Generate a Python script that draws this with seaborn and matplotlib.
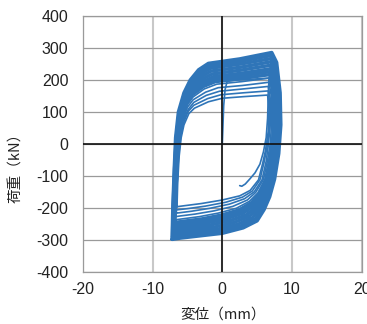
"""
    Load-displacement hysteresis loops (荷重 vs 変位)
"""
import pandas as pd
import seaborn as sns
import matplotlib.pyplot as plt

# loops, innermost first (displacement mm, load kN)
loop1_x = [-6.5, -6.4, -6.2, -5.9, -5.5, -4.8, -4.0, -2.0, 0.0, 3.0, 6.5, 6.7, 6.6, 6.2, 5.8, 5.2, 4.0, 2.5, 0.0, -3.0, -5.5, -6.2]
loop1_y = [-196, -120, -40, 20, 60, 95, 112, 132, 143, 148, 153, 110, 40, -20, -60, -112, -145, -162, -175, -186, -193, -195]
loop2_x = [-6.6, -6.5, -6.3, -6.0, -5.6, -4.9, -4.1, -2.1, -0.2, 3.0, 6.6, 6.8, 6.8, 6.4, 6.0, 5.4, 4.3, 2.9, 0.5, -2.4, -5.0, -6.2]
loop2_y = [-206, -128, -44, 20, 64, 102, 121, 142, 154, 160, 166, 125, 52, -12, -57, -112, -147, -166, -182, -194, -202, -205]
loop3_x = [-6.6, -6.5, -6.3, -6.1, -5.7, -4.9, -4.1, -2.3, -0.4, 2.9, 6.6, 6.9, 6.9, 6.6, 6.3, 5.7, 4.6, 3.2, 1.0, -1.8, -4.4, -6.2]
loop3_y = [-216, -136, -48, 20, 68, 108, 130, 152, 165, 172, 180, 139, 64, -4, -54, -112, -149, -171, -188, -201, -210, -215]
loop4_x = [-6.7, -6.6, -6.4, -6.1, -5.7, -5.0, -4.2, -2.4, -0.6, 2.9, 6.7, 7.0, 7.1, 6.9, 6.5, 5.9, 4.8, 3.6, 1.5, -1.2, -3.9, -6.1]
loop4_y = [-227, -144, -52, 20, 72, 115, 138, 162, 176, 183, 193, 154, 76, 4, -51, -111, -151, -175, -195, -209, -219, -225]
loop5_x = [-6.8, -6.7, -6.5, -6.2, -5.8, -5.1, -4.2, -2.6, -0.8, 2.8, 6.7, 7.1, 7.3, 7.1, 6.7, 6.1, 5.1, 3.9, 2.0, -0.6, -3.3, -6.1]
loop5_y = [-237, -152, -56, 20, 76, 121, 147, 172, 187, 195, 206, 168, 88, 12, -48, -111, -153, -179, -201, -216, -227, -235]
loop6_x = [-6.8, -6.7, -6.5, -6.3, -5.9, -5.1, -4.3, -2.7, -1.0, 2.8, 6.8, 7.2, 7.4, 7.3, 6.9, 6.3, 5.3, 4.2, 2.4, -0.1, -2.9, -6.1]
loop6_y = [-245, -158, -59, 20, 79, 126, 154, 180, 195, 205, 217, 180, 98, 18, -46, -111, -155, -183, -206, -222, -234, -243]
loop7_x = [-6.9, -6.8, -6.6, -6.3, -5.9, -5.2, -4.3, -2.8, -1.1, 2.7, 6.8, 7.3, 7.5, 7.4, 7.1, 6.5, 5.5, 4.4, 2.8, 0.3, -2.5, -6.1]
loop7_y = [-252, -164, -62, 20, 82, 131, 160, 187, 203, 213, 226, 190, 106, 24, -44, -111, -156, -186, -211, -228, -240, -249]
loop8_x = [-6.9, -6.8, -6.6, -6.4, -6.0, -5.2, -4.4, -2.9, -1.2, 2.7, 6.9, 7.4, 7.7, 7.6, 7.2, 6.6, 5.7, 4.7, 3.1, 0.7, -2.1, -6.1]
loop8_y = [-259, -170, -65, 20, 85, 135, 167, 194, 211, 221, 235, 200, 114, 30, -41, -111, -157, -189, -215, -233, -246, -256]
loop9_x = [-7.0, -6.9, -6.7, -6.5, -6.1, -5.3, -4.4, -3.0, -1.4, 2.7, 6.9, 7.5, 7.8, 7.7, 7.4, 6.8, 6.0, 5.0, 3.5, 1.2, -1.7, -6.1]
loop9_y = [-267, -176, -68, 20, 88, 141, 174, 202, 219, 231, 246, 212, 124, 36, -39, -111, -159, -192, -221, -239, -253, -264]
loop10_x = [-7.0, -6.9, -6.8, -6.5, -6.1, -5.3, -4.5, -3.1, -1.6, 2.6, 7.0, 7.6, 7.9, 7.9, 7.6, 7.0, 6.2, 5.2, 3.9, 1.7, -1.2, -6.0]
loop10_y = [-276, -182, -71, 20, 91, 146, 181, 210, 228, 240, 257, 223, 134, 42, -37, -110, -161, -196, -226, -245, -260, -272]
loop11_x = [-7.1, -7.0, -6.8, -6.6, -6.2, -5.4, -4.5, -3.2, -1.7, 2.6, 7.0, 7.6, 8.1, 8.1, 7.8, 7.2, 6.4, 5.5, 4.3, 2.2, -0.8, -6.0]
loop11_y = [-284, -189, -74, 20, 94, 151, 188, 218, 237, 250, 267, 235, 143, 49, -34, -110, -162, -199, -231, -251, -267, -280]
loop12_x = [-7.15, -7.05, -6.85, -6.6, -6.2, -5.45, -4.6, -3.3, -1.9, 2.5, 7.1, 7.7, 8.2, 8.25, 7.9, 7.3, 6.6, 5.8, 4.7, 2.6, -0.4, -6.0]
loop12_y = [-291, -194, -77, 20, 97, 155, 194, 225, 244, 258, 277, 245, 152, 54, -32, -110, -164, -202, -235, -257, -273, -287]
loop13_x = [-7.2, -7.1, -6.9, -6.7, -6.3, -5.5, -4.6, -3.4, -2.0, 2.5, 7.1, 7.8, 8.3, 8.4, 8.1, 7.5, 6.8, 6.0, 5.0, 3.0, 0.0, -6.0]
loop13_y = [-298, -200, -80, 20, 100, 160, 200, 232, 252, 266, 286, 255, 160, 60, -30, -110, -165, -205, -240, -262, -279, -294]

# first loading and final unloading
first_x = [0.0, 0.1, 0.2, 0.4, 0.7, 2.0, 4.5, 6.7]
first_y = [0, 60, 120, 170, 196, 200, 203, 206]
last_x = [6.7, 6.6, 6.5, 6.3, 5.9, 5.4, 4.7, 4.0, 3.3, 2.8, 2.5]
last_y = [206, 150, 80, 20, -25, -63, -90, -108, -125, -132, -130]

x_ticks = [-20, -10, 0, 10, 20]
y_ticks = [-400, -300, -200, -100, 0, 100, 200, 300, 400]

loops = [(loop1_x, loop1_y), (loop2_x, loop2_y), (loop3_x, loop3_y), (loop4_x, loop4_y),
         (loop5_x, loop5_y), (loop6_x, loop6_y), (loop7_x, loop7_y), (loop8_x, loop8_y),
         (loop9_x, loop9_y), (loop10_x, loop10_y), (loop11_x, loop11_y), (loop12_x, loop12_y),
         (loop13_x, loop13_y)]

rows = []
for i, (lx, ly) in enumerate(loops):
    # close each loop back on its first point
    for x, y in zip(lx + lx[:1], ly + ly[:1]):
        rows.append({'cycle': i, 'disp': x, 'load': y, 'outer': i >= 5})
df = pd.DataFrame(rows)
ends = pd.concat([
    pd.DataFrame({'cycle': 100, 'disp': first_x, 'load': first_y}),
    pd.DataFrame({'cycle': 101, 'disp': last_x, 'load': last_y}),
])

sns.set_style('white')
plt.rcParams['axes.unicode_minus'] = False
blue = '#2f75b8'

fig = plt.figure(figsize=(3.67, 3.24), dpi=100)
ax = fig.add_axes([0.226, 0.1605, 0.7594, 0.790])

sns.lineplot(data=df[~df['outer']], x='disp', y='load', units='cycle', estimator=None,
             sort=False, color=blue, lw=1.2, ax=ax)
sns.lineplot(data=df[df['outer']], x='disp', y='load', units='cycle', estimator=None,
             sort=False, color=blue, lw=2.5, ax=ax)
sns.lineplot(data=ends, x='disp', y='load', units='cycle', estimator=None,
             sort=False, color=blue, lw=1.2, ax=ax)

ax.set_xlim(-20, 20)
ax.set_ylim(-400, 400)
ax.set_xticks(x_ticks)
ax.set_yticks(y_ticks)
ax.set_xticklabels([str(t) for t in x_ticks], family='Liberation Sans', fontsize=11.5)
ax.set_yticklabels([str(t) for t in y_ticks], family='Liberation Sans', fontsize=11.5)
ax.tick_params(axis='x', length=0, pad=7, colors='#222222')
ax.tick_params(axis='y', length=0, pad=10.5, colors='#222222')
ax.set_axisbelow(True)
ax.xaxis.grid(True, color='#c8c8c8', lw=1.5)
ax.yaxis.grid(True, color='#9a9a9a', lw=0.9)
ax.axhline(0, color='#111111', lw=1.2, zorder=3)
ax.axvline(0, color='#111111', lw=1.2, zorder=3)
for s in ax.spines.values():
    s.set_color('#9a9a9a')
    s.set_linewidth(0.9)

ax.set_xlabel('')
ax.set_ylabel('')
fig.text(223 / 367, 1 - 315 / 324, '変位（mm）', ha='center', va='center', fontsize=10.5,
         family=['Noto Sans CJK JP', 'DejaVu Sans'], color='#222222')
fig.text(16 / 367, 1 - 164 / 324, '荷重（kN）', ha='center', va='center', fontsize=10.5,
         rotation=90, family=['Noto Sans CJK JP', 'DejaVu Sans'], color='#222222')

fig.savefig('out.png', dpi=100)
